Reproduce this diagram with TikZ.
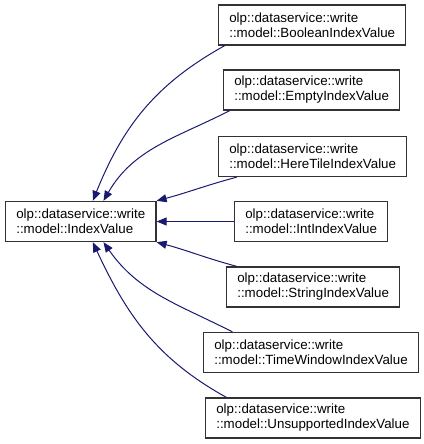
\documentclass[tikz,border=0pt]{standalone}
\usepackage{fontspec}
\setmainfont{Liberation Sans}
\usetikzlibrary{arrows.meta}
\definecolor{edgeblue}{RGB}{25,25,112}
\definecolor{boxgray}{RGB}{50,50,50}

\begin{document}
\begin{tikzpicture}[x=0.75pt, y=-0.75pt,
  cls/.style={draw=boxgray, line width=1pt, fill=white, anchor=west,
              align=left, inner xsep=8pt, minimum height=30pt,
              font=\fontsize{10}{11.25}\selectfont},
  arr/.style={-{Triangle[length=7.5pt,width=6pt]}, color=edgeblue, line width=0.75pt}
]
  \useasboundingbox (0,0) rectangle (424,444);

  \node[cls] (base)  at (5,221.5) {olp::dataservice::write\\::model::IndexValue};
  \node[cls] (bool)  at (218,25)  {olp::dataservice::write\\::model::BooleanIndexValue};
  \node[cls] (empty) at (223,90)  {olp::dataservice::write\\::model::EmptyIndexValue};
  \node[cls] (here)  at (218,156.5) {olp::dataservice::write\\::model::HereTileIndexValue};
  \node[cls] (int)   at (234,221.5) {olp::dataservice::write\\::model::IntIndexValue};
  \node[cls] (str)   at (226,287) {olp::dataservice::write\\::model::StringIndexValue};
  \node[cls] (time)  at (203,352.5) {olp::dataservice::write\\::model::TimeWindowIndexValue};
  \node[cls] (unsup) at (205,418) {olp::dataservice::write\\::model::UnsupportedIndexValue};

  \draw[arr] ([xshift=5pt]bool.south west)   to[out=209,in=68]  ([xshift=9pt]base.north);
  \draw[arr] ([xshift=5pt]empty.south west)  to[out=207,in=60]  ([xshift=17pt]base.north);
  \draw[arr] ([xshift=14pt]here.south west)  to[out=195,in=15]  (base.north east);
  \draw[arr] (int) -- (base);
  \draw[arr] ([xshift=8pt]str.north west)    to[out=165,in=-15] (base.south east);
  \draw[arr] ([xshift=22pt]time.north west)  to[out=153,in=-55] ([xshift=17pt]base.south);
  \draw[arr] ([xshift=16pt]unsup.north west) to[out=151,in=-65] ([xshift=9pt]base.south);
\end{tikzpicture}
\end{document}
